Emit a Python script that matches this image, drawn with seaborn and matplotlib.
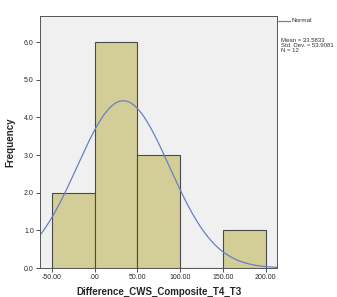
import numpy as np
import pandas as pd
import matplotlib
matplotlib.use('Agg')
import matplotlib.pyplot as plt
import seaborn as sns

# Histogram data
bin_edges = [-50, 0, 50, 100, 150, 200]
bin_counts = [2, 6, 3, 0, 1]
mean_val = 33.5833
std_val = 53.9081
n_obs = 12

x_ticks = [-50, 0, 50, 100, 150, 200]
x_tick_labels = ['-50.00', '.00', '50.00', '100.00', '150.00', '200.00']
y_ticks = [0, 1, 2, 3, 4, 5, 6]

bar_color = '#d3ce97'
curve_color = '#6a80c4'

centers = [(a + b) / 2 for a, b in zip(bin_edges[:-1], bin_edges[1:])]
df = pd.DataFrame({'value': centers, 'count': bin_counts})

sns.set_style('white')
plt.rcParams['font.family'] = ['Liberation Sans', 'DejaVu Sans']

fig = plt.figure(figsize=(3.37, 2.97), dpi=100)
ax = fig.add_axes([0.1187, 0.0976, 0.7033, 0.8484])
ax.set_facecolor('#f0f0f0')

sns.histplot(data=df, x='value', weights='count', bins=bin_edges, ax=ax,
             color=bar_color, alpha=1, edgecolor='#4a4a4a', linewidth=0.8)

# normal curve scaled to counts
xs = np.linspace(-63.7, 213.2, 400)
scale = n_obs * (bin_edges[1] - bin_edges[0])
ys = scale / (std_val * np.sqrt(2 * np.pi)) * np.exp(-0.5 * ((xs - mean_val) / std_val) ** 2)
ax.plot(xs, ys, color=curve_color, linewidth=0.9, label='Normal')

ax.set_xlim(-63.7, 213.2)
ax.set_ylim(0, 6.69)
ax.set_xticks(x_ticks)
ax.set_xticklabels(x_tick_labels)
ax.set_yticks(y_ticks)
ax.set_yticklabels([f'{v:.1f}' for v in y_ticks])
ax.tick_params(axis='both', labelsize=5, length=3, width=0.6, color='#333333',
               pad=1.5, direction='out', bottom=True, left=True)

for s in ax.spines.values():
    s.set_color('#555555')
    s.set_linewidth(0.7)

ax.set_xlabel('Difference_CWS_Composite_T4_T3', fontsize=7, fontweight='bold', labelpad=4)
ax.set_ylabel('Frequency', fontsize=7, fontweight='bold', labelpad=6)

# legend and stats to the right
fig.lines.append(plt.Line2D([278 / 337, 290 / 337], [1 - 21 / 297, 1 - 21 / 297],
                            color=curve_color, linewidth=0.9, transform=fig.transFigure))
fig.text(291 / 337, 1 - 21 / 297, 'Normal', fontsize=4.6, va='center', ha='left', color='#333333')
fig.text(281 / 337, 1 - 38 / 297,
         f'Mean = {mean_val:.4f}\nStd. Dev. = {std_val:.4f}\nN = {n_obs}',
         fontsize=4.3, va='top', ha='left', color='#333333', linespacing=0.95)

plt.savefig('out.png', dpi=100)
